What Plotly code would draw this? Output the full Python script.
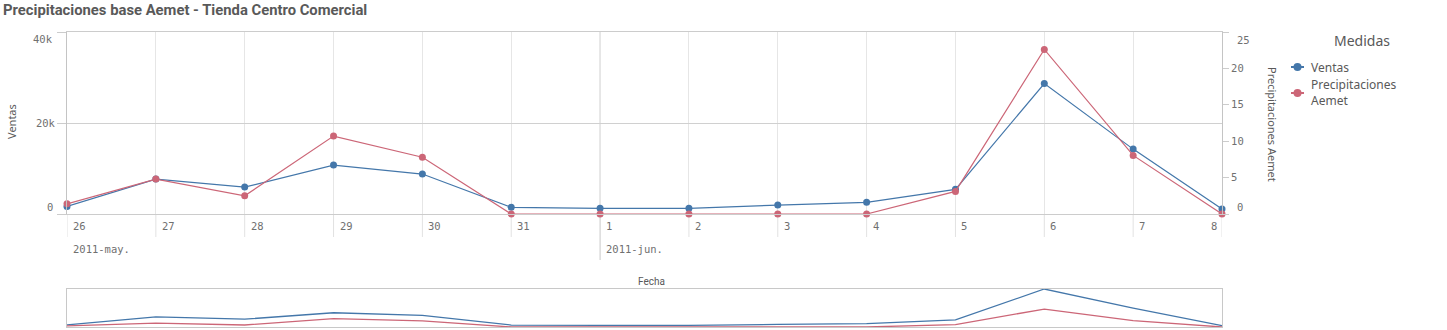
import plotly.graph_objects as go

# ---------------- data ----------------
dates = ["2011-05-26", "2011-05-27", "2011-05-28", "2011-05-29", "2011-05-30", "2011-05-31",
         "2011-06-01", "2011-06-02", "2011-06-03", "2011-06-04", "2011-06-05", "2011-06-06",
         "2011-06-07", "2011-06-08"]
day_labels = ["26", "27", "28", "29", "30", "31", "1", "2", "3", "4", "5", "6", "7", "8"]
ventas = [1670, 7680, 5920, 10750, 8780, 1470, 1250, 1250, 1970, 2560, 5420, 28680, 14260, 1100]
precip = [1.4, 4.8, 2.5, 10.7, 7.8, 0, 0, 0, 0, 0, 3.1, 22.6, 8.05, 0]
month_dates = ["2011-05-26", "2011-06-01"]
month_labels = ["2011-may.", "2011-jun."]
left_ticks = [0, 20000, 40000]
left_tick_text = ["0", "20k", "40k"]
right_ticks = [0, 5, 10, 15, 20, 25]
right_tick_text = ["0", "5", "10", "15", "20", "25"]
series_names = ["Ventas", "Precipitaciones<br>Aemet"]

BLUE = "#4477aa"
RED = "#cc6677"
TXT = "#595959"
TICK = "#707070"
MONO = "DejaVu Sans Mono"
SANS = "Noto Sans"

W, H = 1447, 330
L, R, T, B = 67, 1222, 32, 327  # plot pixel box (overall)
MAIN_BOTTOM = 214
MINI_TOP = 289


def px_x(px):
    return (px - L) / (R - L)


def px_y(py):
    return (B - py) / (B - T)


fig = go.Figure()

# main chart
fig.add_trace(go.Scatter(x=dates, y=ventas, name="Ventas", mode="lines+markers",
                         line=dict(color=BLUE, width=1.2), marker=dict(color=BLUE, size=7),
                         cliponaxis=False, xaxis="x", yaxis="y", showlegend=False))
fig.add_trace(go.Scatter(x=dates, y=precip, name="Precipitaciones Aemet", mode="lines+markers",
                         line=dict(color=RED, width=1.2), marker=dict(color=RED, size=7),
                         cliponaxis=False, xaxis="x", yaxis="y2", showlegend=False))
# mini navigator chart
fig.add_trace(go.Scatter(x=dates, y=ventas, mode="lines", line=dict(color=BLUE, width=1.3),
                         cliponaxis=False, xaxis="x2", yaxis="y3", showlegend=False, hoverinfo="skip"))
fig.add_trace(go.Scatter(x=dates, y=precip, mode="lines", line=dict(color=RED, width=1.3),
                         cliponaxis=False, xaxis="x2", yaxis="y4", showlegend=False, hoverinfo="skip"))

main_dom = [px_y(MAIN_BOTTOM), 1]
mini_dom = [0, px_y(MINI_TOP)]

fig.update_layout(
    width=W, height=H,
    margin=dict(l=L, r=W - R, t=T, b=H - B, pad=0),
    paper_bgcolor="white", plot_bgcolor="white",
    title=dict(text="<b>Precipitaciones base Aemet - Tienda Centro Comercial</b>",
               x=3 / W, xanchor="left", xref="container",
               y=1 - 10 / H, yanchor="middle", yref="container",
               font=dict(family="Roboto", size=14.8, color=TXT)),
    xaxis=dict(type="date", range=[dates[0], dates[-1]], domain=[0, 1], anchor="y",
               tickvals=dates, showticklabels=False, ticks="",
               showgrid=True, gridcolor="#e6e6e6", gridwidth=1,
               showline=True, linecolor="#cccccc", mirror=True, zeroline=False),
    yaxis=dict(range=[0, 40000], domain=main_dom, anchor="x",
               tickvals=left_ticks, ticktext=["", left_tick_text[1], ""],
               ticks="outside", ticklen=9, tickcolor="#cccccc",
               tickfont=dict(family=MONO, size=10.5, color=TICK),
               showgrid=True, gridcolor="#d0d0d0", showline=True, linecolor="#c4c4c4",
               zeroline=False),
    yaxis2=dict(range=[0, 25], overlaying="y", side="right", anchor="x",
                tickvals=right_ticks, ticktext=[""] + right_tick_text[1:-1] + [""],
                ticks="outside", ticklen=6, tickcolor="#cccccc",
                tickfont=dict(family=MONO, size=10.5, color=TICK),
                showgrid=False, showline=True, linecolor="#c4c4c4", zeroline=False),
    xaxis2=dict(type="date", range=[dates[0], dates[-1]], domain=[0, 1.0], anchor="y3",
                showticklabels=False, ticks="", showgrid=False,
                showline=True, linecolor="#c8c8c8", mirror=True, zeroline=False),
    yaxis3=dict(range=[0, max(ventas)], domain=mini_dom, anchor="x2",
                showticklabels=False, ticks="", showgrid=False,
                showline=True, linecolor="#c8c8c8", mirror=True, zeroline=False),
    yaxis4=dict(range=[0, 48], overlaying="y3", anchor="x2", visible=False),
)

shapes = []
annotations = []

# tick extension lines below the main axis, and month separator
for d in dates:
    if d == "2011-06-01":
        shapes.append(dict(type="line", xref="x", yref="paper", x0=d, x1=d,
                           y0=1, y1=px_y(260), line=dict(color="#c8c8c8", width=1), layer="below"))
    else:
        shapes.append(dict(type="line", xref="x", yref="paper", x0=d, x1=d,
                           y0=px_y(MAIN_BOTTOM), y1=px_y(237),
                           line=dict(color="#e2e2e2", width=1), layer="below"))

# x day labels
for i, (d, lab) in enumerate(zip(dates, day_labels)):
    last = i == len(dates) - 1
    annotations.append(dict(x=d, y=px_y(226), xref="x", yref="paper", text=lab,
                            showarrow=False, xanchor="right" if last else "left",
                            xshift=-3 if last else 4, yanchor="middle",
                            font=dict(family=MONO, size=10.5, color=TICK)))
# month labels
for d, lab in zip(month_dates, month_labels):
    annotations.append(dict(x=d, y=px_y(249), xref="x", yref="paper", text=lab,
                            showarrow=False, xanchor="left", xshift=4, yanchor="middle",
                            font=dict(family=MONO, size=10.5, color=TICK)))

# clamped edge y labels
annotations.append(dict(x=0, y=left_ticks[0], xref="paper", yref="y", text=left_tick_text[0],
                        showarrow=False, xanchor="right", xshift=-12, yshift=7.5, yanchor="middle",
                        font=dict(family=MONO, size=10.5, color=TICK)))
annotations.append(dict(x=0, y=left_ticks[-1], xref="paper", yref="y", text=left_tick_text[-1],
                        showarrow=False, xanchor="right", xshift=-12, yshift=-7, yanchor="middle",
                        font=dict(family=MONO, size=10.5, color=TICK)))
annotations.append(dict(x=1, y=right_ticks[0], xref="paper", yref="y2", text=right_tick_text[0],
                        showarrow=False, xanchor="left", xshift=13, yshift=7.5, yanchor="middle",
                        font=dict(family=MONO, size=10.5, color=TICK)))
annotations.append(dict(x=1, y=right_ticks[-1], xref="paper", yref="y2", text=right_tick_text[-1],
                        showarrow=False, xanchor="left", xshift=13, yshift=-8, yanchor="middle",
                        font=dict(family=MONO, size=10.5, color=TICK)))

# axis titles
annotations.append(dict(x=px_x(12), y=px_y(122), xref="paper", yref="paper", text="Ventas",
                        textangle=-90, showarrow=False, xanchor="center", yanchor="middle",
                        font=dict(family=SANS, size=11, color=TXT)))
annotations.append(dict(x=px_x(1272), y=px_y(124), xref="paper", yref="paper",
                        text="Precipitaciones Aemet", textangle=90, showarrow=False,
                        xanchor="center", yanchor="middle",
                        font=dict(family=SANS, size=11, color=TXT)))
annotations.append(dict(x=px_x(651), y=px_y(281), xref="paper", yref="paper", text="Fecha",
                        showarrow=False, xanchor="center", yanchor="middle",
                        font=dict(family="Roboto", size=10, color=TXT)))

# manual legend
annotations.append(dict(x=px_x(1362), y=px_y(41), xref="paper", yref="paper", text="Medidas",
                        showarrow=False, xanchor="center", yanchor="middle",
                        font=dict(family=SANS, size=14, color=TXT)))
leg_y = [67, 93]
for name, col, ly in zip(series_names, [BLUE, RED], leg_y):
    shapes.append(dict(type="line", xref="paper", yref="paper", x0=px_x(1291), x1=px_x(1304),
                       y0=px_y(ly), y1=px_y(ly), line=dict(color=col, width=2)))
    shapes.append(dict(type="circle", xref="paper", yref="paper",
                       x0=px_x(1297.5 - 4), x1=px_x(1297.5 + 4),
                       y0=px_y(ly + 4), y1=px_y(ly - 4), fillcolor=col, line=dict(width=0)))
    annotations.append(dict(x=px_x(1309), y=px_y(ly), xref="paper", yref="paper", text=name,
                            showarrow=False, xanchor="left", yanchor="middle", align="left",
                            font=dict(family=SANS, size=12, color=TXT)))

fig.update_layout(shapes=shapes, annotations=annotations)
fig.write_html("out.html")
